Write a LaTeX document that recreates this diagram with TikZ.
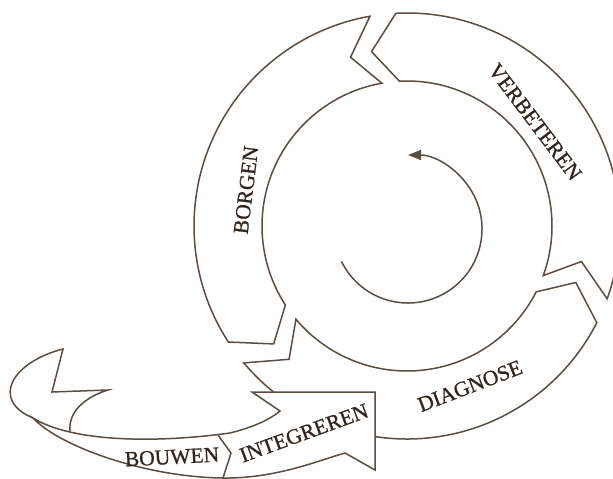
\documentclass[tikz,border=0pt]{standalone}
\usepackage{fontspec}
\setmainfont{Liberation Serif}
\newfontfamily\tagfont[FakeBold=0.9]{Liberation Serif}
\usetikzlibrary{arrows.meta}
\definecolor{ink}{RGB}{92,76,66}
\definecolor{lettering}{RGB}{50,37,31}

\begin{document}
\begin{tikzpicture}[x=1pt, y=-1pt,
  band/.style={draw=ink, line width=1.5pt, fill=white},
  edge/.style={draw=ink, line width=1.5pt},
  tag/.style={text=lettering, font=\tagfont\fontsize{21.5}{24}\selectfont, inner sep=0pt}]
\useasboundingbox (0,0) rectangle (613,479);

\begin{scope}[shift={(407,226)}]
% verbeteren
\draw[band] (20:213) arc[start angle=20, end angle=-93, radius=213] -- (-101.5:178) -- (-93:145) arc[start angle=-93, end angle=20, radius=145] -- (11.5:178) -- cycle;
% borgen
\draw[band] (-100:213) arc[start angle=-100, end angle=-213, radius=213] -- (-221.5:178) -- (-213:145) arc[start angle=-213, end angle=-100, radius=145] -- (-108.5:178) -- cycle;
% diagnose
\draw[band] (-220:213) arc[start angle=-220, end angle=-333, radius=213] -- (-341.5:178) -- (-333:145) arc[start angle=-333, end angle=-220, radius=145] -- (-228.5:178) -- cycle;
\end{scope}

% inner cycle
\draw[edge, -{Triangle[length=13pt,width=10pt]}] (408,229) ++(154:74) arc[start angle=154, end angle=-90, radius=74];

% bouwen / integreren ribbon
\draw[band] (33,418) .. controls (60,447) and (150,479) .. (230,478) .. controls (280,477) and (320,460) .. (345,453) -- (375,470) -- (375,392) -- (252,392) -- (280,411) .. controls (268,421) and (250,428) .. (230,433) .. controls (150,444) and (70,441) .. (33,418) -- cycle;
\draw[edge] (33,418) .. controls (-10,400) and (12,362) .. (63,349) -- (52,392) -- (108,390) .. controls (85,397) and (68,412) .. (70,431);
\draw[edge] (218,435) -- (231,453) -- (223,478);

\node[tag, rotate=83] (borgen) at (246,190) {BORGEN};
\node[tag, rotate=-53] (verbeteren) at (535,122) {VERBETEREN};
\node[tag, rotate=21] (diagnose) at (470,386) {DIAGNOSE};
\node[tag, rotate=20] (integreren) at (304,433) {INTEGREREN};
\node[tag, rotate=3] (bouwen) at (172,457) {BOUWEN};
\end{tikzpicture}
\end{document}
